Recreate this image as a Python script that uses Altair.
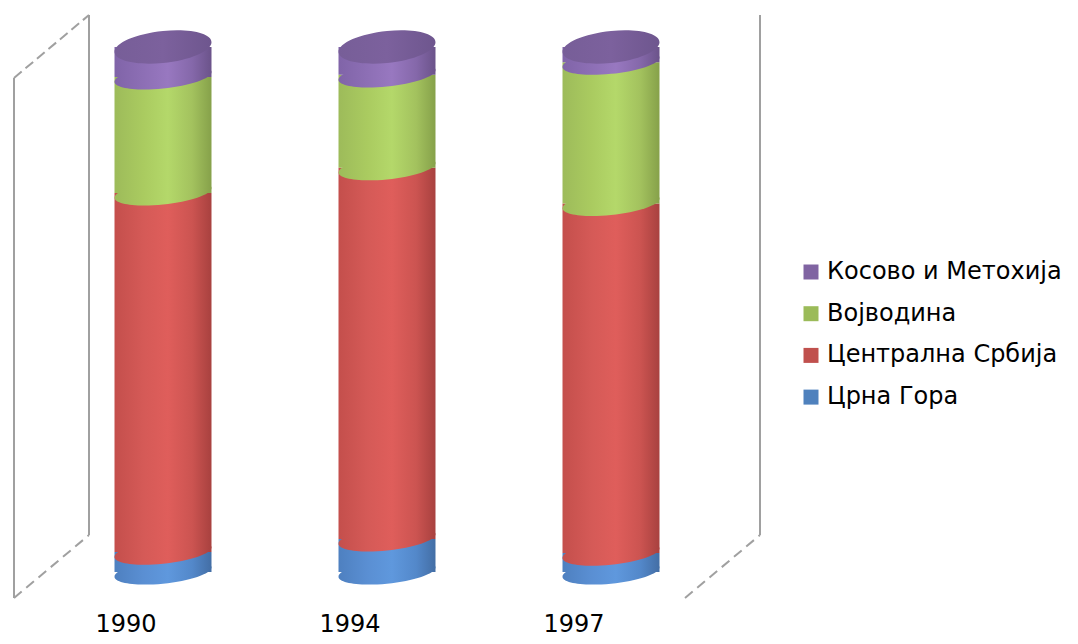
import altair as alt
import pandas as pd

# ---------------- data (100% stacked) ----------------
years = ["1990", "1994", "1997"]
series = ["Црна Гора", "Централна Србија", "Војводина", "Косово и Метохија"]  # bottom -> top
crna_gora = [3.8, 6.3, 3.6]
centralna_srbija = [68.4, 70.7, 66.6]
vojvodina = [22.1, 17.7, 26.9]
kosovo = [5.7, 5.3, 2.9]

legend_order = ["Косово и Метохија", "Војводина", "Централна Србија", "Црна Гора"]
legend_colors = ["#8064A2", "#9BBB59", "#C0504D", "#4F81BD"]

values = [crna_gora, centralna_srbija, vojvodina, kosovo]
rows = []
for yi, yr in enumerate(years):
    lo = 0.0
    for si, s in enumerate(series):
        v = values[si][yi]
        rows.append({"year": yr, "series": s, "lo": lo, "hi": lo + v, "value": v})
        lo += v
df = pd.DataFrame(rows)

# ---------------- styling ----------------
FONT = "DejaVu Sans"
W, H = 672, 525
BAR_W = 97


def grad(stops):
    return alt.LinearGradient(
        gradient="linear",
        stops=[alt.GradientStop(offset=o, color=c) for o, c in stops],
        x1=0, x2=1, y1=0, y2=0,
    )


side_grad = {
    "Црна Гора": grad([(0, "#4E80C0"), (0.3, "#5A8FD3"), (0.55, "#5F98DD"), (0.8, "#5388CA"), (1, "#436EA5")]),
    "Централна Србија": grad([(0, "#C44F4C"), (0.3, "#D55A57"), (0.55, "#DF5E5B"), (0.8, "#CC5451"), (1, "#A8413F")]),
    "Војводина": grad([(0, "#9DBB5A"), (0.3, "#AACB60"), (0.55, "#B4D86A"), (0.8, "#A3C25E"), (1, "#86A14A")]),
    "Косово и Метохија": grad([(0, "#8064A8"), (0.3, "#8D6FB5"), (0.55, "#9878C0"), (0.8, "#8568AA"), (1, "#6B538A")]),
}
top_grad = grad([(0, "#775E98"), (0.5, "#7C619D"), (1, "#6E568E")])


def ellipse_path(k, s):
    c = 0.5523
    pts = [(-1, 0), (-1, -c * k), (-c, -k), (0, -k), (c, -k), (1, -c * k), (1, 0),
           (1, c * k), (c, k), (0, k), (-c, k), (-1, c * k), (-1, 0)]
    sh = [(x, y - s * x) for x, y in pts]
    f = lambda p: f"{p[0]:.4f} {p[1]:.4f}"
    d = "M " + f(sh[0])
    for i in range(1, 13, 3):
        d += " C " + f(sh[i]) + " " + f(sh[i + 1]) + " " + f(sh[i + 2])
    return d + " Z"


band_path = ellipse_path(0.24, 0.1)
cap_path = ellipse_path(0.33, 0.1)

x_enc = alt.X(
    "year:N",
    sort=years,
    scale=alt.Scale(domain=years, paddingInner=0.567, paddingOuter=0.2835),
    axis=alt.Axis(
        title=None, domain=False, ticks=False, tickSize=0, grid=False,
        labelAngle=0, labelFont=FONT, labelFontSize=24, labelColor="#000000",
        labelOffset=-37, labelPadding=59, labelBaseline="alphabetic",
    ),
)
y_scale = alt.Scale(domain=[0, 100], nice=False, zero=True)

layers = []

# invisible layer carrying the legend
layers.append(
    alt.Chart(df).mark_point(shape="square", filled=True, opacity=0, size=1).encode(
        x=x_enc,
        y=alt.Y("hi:Q", scale=y_scale, axis=None),
        color=alt.Color(
            "series:N",
            scale=alt.Scale(domain=legend_order, range=legend_colors),
            legend=alt.Legend(
                title=None, orient="none", legendX=748, legendY=213,
                symbolType="square", symbolSize=225, symbolOpacity=1, symbolStrokeWidth=0,
                labelFont=FONT, labelFontSize=24, labelColor="#000000", labelOffset=4,
                rowPadding=17.7, labelLimit=400,
            ),
        ),
    )
)

for s in series:
    seg = alt.Chart(df).transform_filter(alt.datum.series == s)
    layers.append(
        seg.mark_bar(color=side_grad[s], strokeWidth=0, cornerRadius=0).encode(
            x=x_enc,
            y=alt.Y("lo:Q", scale=y_scale, axis=None),
            y2="hi:Q",
        )
    )
    layers.append(
        seg.mark_point(shape=band_path, size=BAR_W * BAR_W, filled=True,
                       fill=side_grad[s], opacity=1, strokeOpacity=0).encode(
            x=x_enc,
            y=alt.Y("lo:Q", scale=y_scale, axis=None),
        )
    )

layers.append(
    alt.Chart(df).transform_filter(alt.datum.series == series[-1]).mark_point(
        shape=cap_path, size=BAR_W * BAR_W, filled=True, fill=top_grad,
        opacity=1, strokeOpacity=0,
    ).encode(
        x=x_enc,
        y=alt.Y("hi:Q", scale=y_scale, axis=None),
    )
)

# decorative 3-D wall outline (pixel positions relative to the plot area)
one = pd.DataFrame({"k": [0]})
frame_lines = [
    (-37, 31, -37, 551, None),
    (38, -32, 38, 488, None),
    (709, -32, 709, 488, None),
    (-37, 31, 38, -32, [10, 5]),
    (-37, 551, 38, 488, [10, 6]),
    (634, 551, 709, 488, [10, 6]),
]
for x1, y1, x2, y2, dash in frame_lines:
    kw = dict(color="#A0A0A0", strokeWidth=2)
    if dash:
        kw["strokeDash"] = dash
    layers.append(
        alt.Chart(one).mark_rule(**kw).encode(
            x=alt.value(x1), y=alt.value(y1), x2=alt.value(x2), y2=alt.value(y2)
        )
    )

chart = alt.layer(*layers).properties(
    width=W, height=H,
    autosize=alt.AutoSizeParams(type="none"),
    padding={"left": 43, "top": 39, "right": 347, "bottom": 64},
    background="white",
).configure_view(stroke=None)

chart.save("out.html", embed_options={"renderer": "svg", "actions": False})
